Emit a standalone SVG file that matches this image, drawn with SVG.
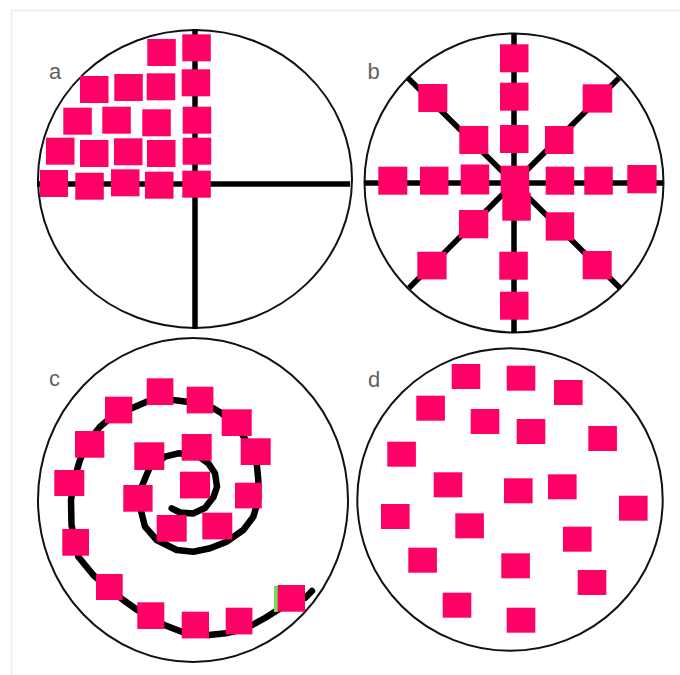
<svg xmlns="http://www.w3.org/2000/svg" width="680" height="675" viewBox="0 0 680 675">
<style>
.frame{stroke:#ececec;stroke-width:1.5;fill:none}
.ring{fill:none;stroke:#111;stroke-width:2}
.axis{stroke:#000;stroke-width:5.5;fill:none}
.spiral{stroke:#000;stroke-width:6.5;fill:none;stroke-linecap:round;stroke-linejoin:round}
.lbl{font-family:"Liberation Sans",Arial,sans-serif;font-size:22px;fill:#616161}
.sq rect{fill:#ff0066}
</style>
<rect width="680" height="675" fill="#fff"/>
<path class="frame" d="M11.5,675 V10.5 H680"/>

<g id="panel-a">
  <ellipse class="ring" cx="195" cy="179" rx="157" ry="149"/>
  <g id="a-connectors">
    <line class="axis" x1="37" y1="184" x2="350" y2="184"/>
    <line class="axis" x1="195" y1="29" x2="195" y2="329"/>
  </g>
  <text class="lbl" x="49" y="78.5">a</text>
  <g class="sq" id="a-squares">
    <rect x="147.3" y="39" width="28.5" height="27"/>
    <rect x="182.3" y="34.3" width="28.5" height="27"/>
    <rect x="80" y="76" width="28.5" height="27"/>
    <rect x="114.3" y="74" width="28.5" height="27"/>
    <rect x="146.7" y="73.3" width="28.5" height="27"/>
    <rect x="181.7" y="69.3" width="28.5" height="27"/>
    <rect x="63.3" y="107.7" width="28.5" height="27"/>
    <rect x="102.3" y="106.7" width="28.5" height="27"/>
    <rect x="142.3" y="109.3" width="28.5" height="27"/>
    <rect x="182.7" y="106.7" width="28.5" height="27"/>
    <rect x="46" y="137.7" width="28.5" height="27"/>
    <rect x="80" y="140" width="28.5" height="27"/>
    <rect x="114" y="138.3" width="28.5" height="27"/>
    <rect x="147" y="140" width="28.5" height="27"/>
    <rect x="182.7" y="137.7" width="28.5" height="27"/>
    <rect x="40" y="170" width="28" height="27"/>
    <rect x="75.3" y="172.7" width="28.5" height="27"/>
    <rect x="111" y="169.3" width="28.5" height="27"/>
    <rect x="145" y="171.7" width="28.5" height="27"/>
    <rect x="182.3" y="170.7" width="28.5" height="27"/>
  </g>
</g>

<g id="panel-b">
  <circle class="ring" cx="514" cy="183" r="149.5"/>
  <g id="b-connectors">
    <line class="axis" x1="514" y1="33" x2="514" y2="333"/>
    <line class="axis" x1="365" y1="183" x2="663" y2="183"/>
    <line class="axis" x1="408" y1="78" x2="620" y2="288"/>
    <line class="axis" x1="619" y1="78" x2="409" y2="288"/>
  </g>
  <text class="lbl" x="367.5" y="78.5">b</text>
  <g class="sq" id="b-squares">
    <rect x="500" y="44.3" width="28.5" height="28"/>
    <rect x="500" y="82.7" width="28.5" height="28"/>
    <rect x="500" y="125" width="28.5" height="28"/>
    <rect x="500.7" y="165.7" width="28.5" height="28"/>
    <rect x="502.3" y="192.7" width="28.5" height="28"/>
    <rect x="499.3" y="251.7" width="28.5" height="28"/>
    <rect x="500" y="291.7" width="28.5" height="28"/>
    <rect x="378.3" y="166.7" width="29" height="28"/>
    <rect x="420" y="166.7" width="28.5" height="28"/>
    <rect x="460.7" y="164.5" width="28.5" height="30"/>
    <rect x="545.7" y="166.7" width="28.5" height="28"/>
    <rect x="584.3" y="166.7" width="28.5" height="28"/>
    <rect x="627.3" y="165" width="29.3" height="28.3"/>
    <rect x="418.3" y="84" width="29" height="28"/>
    <rect x="459.3" y="126" width="29" height="28"/>
    <rect x="582.7" y="84.3" width="29.5" height="28.3"/>
    <rect x="545" y="126" width="28.5" height="28"/>
    <rect x="459" y="210" width="29.3" height="28.3"/>
    <rect x="417.3" y="251.7" width="29.3" height="27.7"/>
    <rect x="545.7" y="212.3" width="28.5" height="28.3"/>
    <rect x="582.7" y="251" width="29" height="28.3"/>
  </g>
</g>

<g id="panel-c">
  <ellipse class="ring" cx="193" cy="500" rx="155" ry="162"/>
  <g id="c-connectors">
    <polyline class="spiral" points="171.7,508.3 180,512.5 193,513.5 205,508 213.5,497 217,486.7 215,473.3 208.3,463.3 196.7,455 178.3,453.3 165,456.7 150,466.7 141.7,486.7 140,506.7 145,526.7 156.7,540 176.7,550 193.3,551.7 210,548.3 226.7,541.7 243.3,530 253.3,516.7 258.3,500 258.3,480 256.7,463.3 251.7,450 239,429 221.7,413.3 213.3,408.3 200,403 186.7,401.7 173.3,400 160,400 146.7,401.7 131.7,408.3 120,413 110,418.3 100,426.7 88,442 80,460 74,480 71,500 71.5,525 78.3,556.7 93.3,575 108,588 123.3,600 137.3,610 150,618 164.3,625 181.7,631.7 195,634 209,635 225.7,633.3 240,630 252.3,625 265,618 277.7,610 292,602 305,598 312,591"/>
  </g>
  <text class="lbl" x="49" y="386">c</text>
  <rect x="274" y="586" width="4" height="26" fill="#77dd55"/>
  <g class="sq" id="c-squares">
    <rect x="146.7" y="378.3" width="26.7" height="26.7"/>
    <rect x="186.7" y="386.7" width="26.7" height="26.7"/>
    <rect x="105" y="396.7" width="27.3" height="26.7"/>
    <rect x="221.7" y="409.3" width="30" height="26.7"/>
    <rect x="75" y="431" width="29.3" height="26.7"/>
    <rect x="240.7" y="438.3" width="30" height="26.7"/>
    <rect x="134.3" y="442.3" width="30" height="27.7"/>
    <rect x="181.7" y="434" width="30" height="26.7"/>
    <rect x="54.3" y="470" width="30" height="26"/>
    <rect x="180" y="471.7" width="30" height="26.7"/>
    <rect x="123.3" y="485" width="29.3" height="26.7"/>
    <rect x="235" y="482.7" width="26.7" height="25.7"/>
    <rect x="156.7" y="515" width="30" height="26.7"/>
    <rect x="202.3" y="512.7" width="30" height="26.7"/>
    <rect x="62.3" y="529" width="26.7" height="26.7"/>
    <rect x="96" y="574" width="26.7" height="26"/>
    <rect x="137.3" y="602.3" width="27" height="26.7"/>
    <rect x="181.7" y="611.7" width="27.3" height="26.7"/>
    <rect x="225.7" y="607.7" width="26.7" height="26.7"/>
    <rect x="277.7" y="585" width="27.3" height="26.7"/>
  </g>
</g>

<g id="panel-d">
  <ellipse class="ring" cx="510" cy="499.5" rx="152.7" ry="151.2"/>
  <text class="lbl" x="368" y="386.5">d</text>
  <g class="sq" id="d-squares">
    <rect x="451.7" y="364" width="28.6" height="25"/>
    <rect x="506.7" y="365.7" width="28.6" height="25"/>
    <rect x="554" y="380" width="28.6" height="25"/>
    <rect x="416.3" y="395.7" width="28.6" height="25"/>
    <rect x="470.7" y="409" width="28.6" height="25"/>
    <rect x="516.7" y="419" width="28.6" height="25"/>
    <rect x="588.3" y="426" width="28.6" height="25"/>
    <rect x="387.3" y="441.7" width="28.6" height="25"/>
    <rect x="433.7" y="472.3" width="28.6" height="25"/>
    <rect x="504" y="478.3" width="28.6" height="25"/>
    <rect x="548" y="474.3" width="28.6" height="25"/>
    <rect x="619" y="495.7" width="28.6" height="25"/>
    <rect x="381" y="504" width="28.6" height="25"/>
    <rect x="455.3" y="513.3" width="28.6" height="25"/>
    <rect x="563" y="526.7" width="28.6" height="25"/>
    <rect x="408.3" y="547.7" width="28.6" height="25"/>
    <rect x="501.3" y="553.3" width="28.6" height="25"/>
    <rect x="577.7" y="570" width="28.6" height="25"/>
    <rect x="442.7" y="592.7" width="28.6" height="25"/>
    <rect x="506.7" y="607.7" width="28.6" height="25"/>
  </g>
</g>
</svg>
